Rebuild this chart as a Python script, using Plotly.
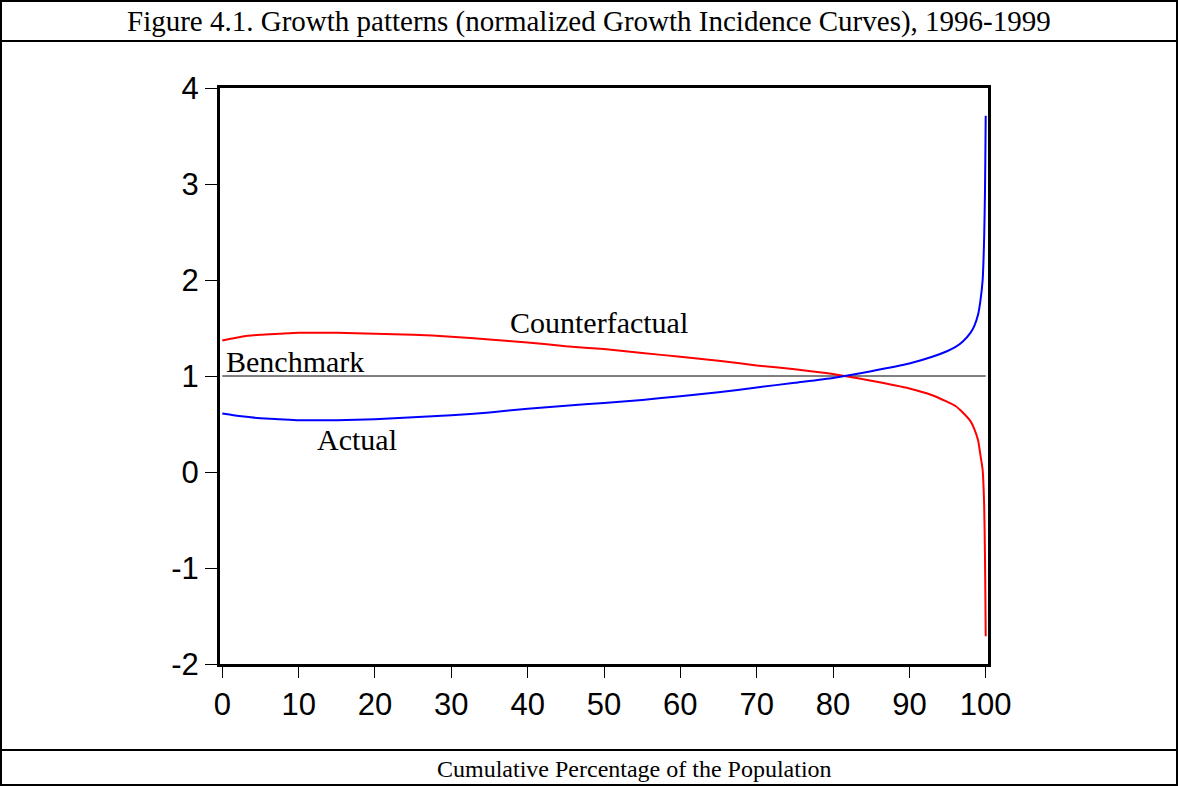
import plotly.graph_objects as go

# cumulative percentage of the population
pct = [0, 2.5, 5, 7.5, 10, 12.5, 15, 20, 25, 30, 35, 40, 45, 50, 55, 60, 65, 70,
       75, 80, 85, 90, 93, 95, 96, 97, 98, 98.5, 99, 99.3, 99.6, 99.8, 99.9,
       99.95, 100]
actual = [0.61, 0.58, 0.56, 0.55, 0.54, 0.54, 0.54, 0.55, 0.57, 0.59, 0.62, 0.66,
          0.69, 0.72, 0.75, 0.79, 0.83, 0.88, 0.93, 0.98, 1.05, 1.13, 1.20, 1.26,
          1.30, 1.36, 1.45, 1.52, 1.64, 1.78, 2.0, 2.45, 2.9, 3.26, 3.71]
counterfactual = [1.37, 1.41, 1.43, 1.44, 1.45, 1.45, 1.45, 1.44, 1.43, 1.41, 1.38,
                  1.35, 1.31, 1.28, 1.24, 1.20, 1.16, 1.11, 1.07, 1.02, 0.95, 0.87,
                  0.80, 0.73, 0.69, 0.62, 0.53, 0.45, 0.33, 0.18, 0.02, -0.35,
                  -0.85, -1.25, -1.71]
bench_x = [0, 100]
bench_y = [1, 1]
y_ticks = [-2, -1, 0, 1, 2, 3, 4]
y_labels = ["-2", "-1", "0", "1", "2", "3", "4"]

W, H = 1178, 786
fig = go.Figure()
fig.add_trace(go.Scatter(x=bench_x, y=bench_y, mode="lines",
                         line=dict(color="black", width=1)))
fig.add_trace(go.Scatter(x=pct, y=counterfactual, mode="lines",
                         line=dict(color="#ff0000", width=2, shape="spline", smoothing=0.5)))
fig.add_trace(go.Scatter(x=pct, y=actual, mode="lines",
                         line=dict(color="#0000ff", width=2, shape="spline", smoothing=0.5)))

serif = "Liberation Serif, Times New Roman, serif"
labels = [("Counterfactual", 49.4, 1.56, "center"),
          ("Benchmark", 0.2, 1.15, "left"),
          ("Actual", 17.7, 0.34, "center")]
for txt, x, y, anc in labels:
    fig.add_annotation(x=x, y=y, text=txt, showarrow=False, xanchor=anc,
                       font=dict(family=serif, size=30, color="black"))

# table-like frame around the figure
fig.add_annotation(x=589 / W, y=1 - 22 / H, xref="paper", yref="paper", showarrow=False,
                   yanchor="middle",
                   text="Figure 4.1. Growth patterns (normalized Growth Incidence Curves), 1996-1999",
                   font=dict(family=serif, size=29, color="black"))
fig.add_annotation(x=634 / W, y=1 - 769 / H, xref="paper", yref="paper", showarrow=False,
                   yanchor="middle",
                   text="Cumulative Percentage of the Population",
                   font=dict(family=serif, size=24, color="black"))
ln = dict(color="black", width=2)
fig.add_shape(type="rect", xref="paper", yref="paper", x0=1 / W, x1=1 - 1 / W,
              y0=1 / H, y1=1 - 1 / H, line=ln)
fig.add_shape(type="line", xref="paper", yref="paper", x0=0, x1=1,
              y0=1 - 41 / H, y1=1 - 41 / H, line=ln)
fig.add_shape(type="line", xref="paper", yref="paper", x0=0, x1=1,
              y0=1 - 750 / H, y1=1 - 750 / H, line=ln)

axis_font = dict(family="Liberation Sans, Arial, sans-serif", size=31, color="black")
fig.update_layout(
    width=W, height=H, showlegend=False,
    paper_bgcolor="white", plot_bgcolor="white",
    margin=dict(l=0, r=0, t=0, b=0, autoexpand=False),
    xaxis=dict(domain=[220 / W, 988 / W], range=[-0.3, 100.3], tick0=0, dtick=10,
               showgrid=False, zeroline=False, showline=True, mirror=True,
               automargin=False, linecolor="black", linewidth=3, ticks="outside",
               ticklen=11, tickwidth=1, tickcolor="black", tickfont=axis_font),
    yaxis=dict(domain=[1 - 664 / H, 1 - 88 / H], range=[-2, 4],
               tickvals=y_ticks, ticktext=y_labels,
               showgrid=False, zeroline=False, showline=True, mirror=True,
               automargin=False, linecolor="black", linewidth=3, ticks="outside",
               ticklen=12, tickwidth=1, tickcolor="black", tickfont=axis_font),
)

# drop the default page margin so the frame lines up with the window edges
fig.write_html("out.html", config={"displayModeBar": False},
               post_script="document.body.style.margin='0';")
